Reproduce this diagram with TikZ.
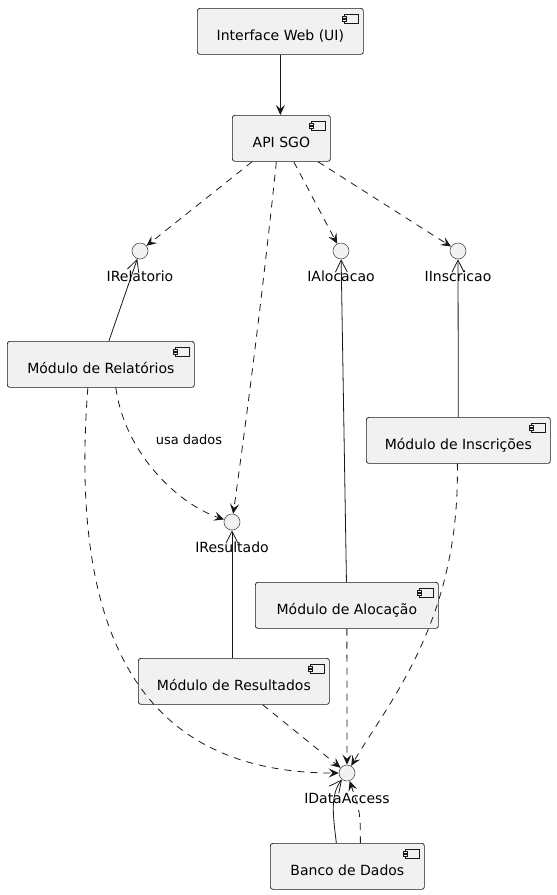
\documentclass[tikz,border=0pt]{standalone}
\usepackage{fontspec}
\setmainfont{DejaVu Sans}
\usetikzlibrary{arrows.meta}
\definecolor{boxfill}{HTML}{F1F1F1}
\definecolor{lin}{HTML}{181818}
\newcommand\compicon[1]{%
  \draw[lin, line width=0.6pt, fill=boxfill] ([xshift=-19pt,yshift=-6pt]#1.north east) rectangle ++(14,9);
  \draw[lin, line width=0.6pt, fill=boxfill] ([xshift=-21pt,yshift=-8pt]#1.north east) rectangle ++(4,2);
  \draw[lin, line width=0.6pt, fill=boxfill] ([xshift=-21pt,yshift=-11.5pt]#1.north east) rectangle ++(4,2);
}
\begin{document}
\begin{tikzpicture}[x=1pt,y=-1pt,
  comp/.style={draw=lin, fill=boxfill, rounded corners=2.5pt, line width=0.7pt,
    inner xsep=0pt, inner ysep=0pt, text height=32pt, text depth=14pt,
    font=\fontsize{14}{16}\selectfont, anchor=north west, align=center},
  iface/.style={circle, draw=lin!75, fill=boxfill, minimum size=16pt, inner sep=0pt, line width=0.6pt},
  ilabel/.style={font=\fontsize{14}{16}\selectfont, anchor=base, inner sep=0pt},
  dep/.style={draw=lin, line width=0.8pt, dash pattern=on 7pt off 6pt,
    -{Stealth[length=10pt,width=9pt,inset=4pt]}},
  use/.style={draw=lin, line width=0.8pt, -{Stealth[length=10pt,width=9pt,inset=4pt]}},
  lolli/.style={draw=lin, line width=0.8pt, {Straight Barb[length=12pt,width=12pt]}-},
]
\useasboundingbox (0,0) rectangle (557,895);

% components
\node[comp, minimum width=166pt] (iw)  at (197,8)   {Interface Web (UI)};
\node[comp, minimum width=98pt]  (api) at (232,115) {API SGO};
\node[comp, minimum width=187pt] (rel) at (7,341)   {Módulo de Relatórios};
\node[comp, minimum width=184pt] (ins) at (366,417) {Módulo de Inscrições};
\node[comp, minimum width=183pt] (alo) at (255,582) {Módulo de Alocação};
\node[comp, minimum width=191pt] (res) at (138,658) {Módulo de Resultados};
\node[comp, minimum width=154pt] (bd)  at (270,843) {Banco de Dados};
\compicon{iw}\compicon{api}\compicon{rel}\compicon{ins}\compicon{alo}\compicon{res}\compicon{bd}

% interfaces
\node[iface] (irel) at (140,251) {};
\node[iface] (ialo) at (341,251) {};
\node[iface] (iins) at (458,251) {};
\node[iface] (ires) at (232,522) {};
\node[iface] (idat) at (347,773) {};

% connectors
\draw[use] (iw) -- (iw |- api.north);
\draw[dep] (api) -- (irel);
\draw[dep] (api) -- (ialo);
\draw[dep] (api) -- (iins);
\draw[dep] ([xshift=-5pt]api.south) .. controls (262,300) and (245,430) .. (ires);

\draw[lolli] (irel) -- (rel);
\draw[lolli] (ialo) -- (alo);
\draw[lolli] (iins) -- (ins);
\draw[lolli] (ires) -- (ires |- res.north);
\draw[lolli] (idat) .. controls (330,795) and (333,815) .. ([xshift=-11pt]bd.north);

\draw[dep] ([xshift=15pt]rel.south) .. controls (125,455) and (180,505) .. (ires);
\node[font=\fontsize{13}{15}\selectfont, inner sep=0pt] (lusa) at (189,440) {usa dados};
\draw[dep] ([xshift=-13pt]rel.south) .. controls (70,620) and (130,773) .. (idat);
\draw[dep] (res) -- (idat);
\draw[dep] (alo) -- (idat);
\draw[dep] ([xshift=-1pt]ins.south) .. controls (460,620) and (390,700) .. (idat);
\draw[dep] ([xshift=13pt]bd.north) .. controls +(0,-30) .. (idat);

% interface labels
\node[ilabel] (lrel) at (140,281) {IRelatorio};
\node[ilabel] (lalo) at (341,281) {IAlocacao};
\node[ilabel] (lins) at (458,281) {IInscricao};
\node[ilabel] (lres) at (232,552) {IResultado};
\node[ilabel] (ldat) at (347,803) {IDataAccess};
\end{tikzpicture}
\end{document}
